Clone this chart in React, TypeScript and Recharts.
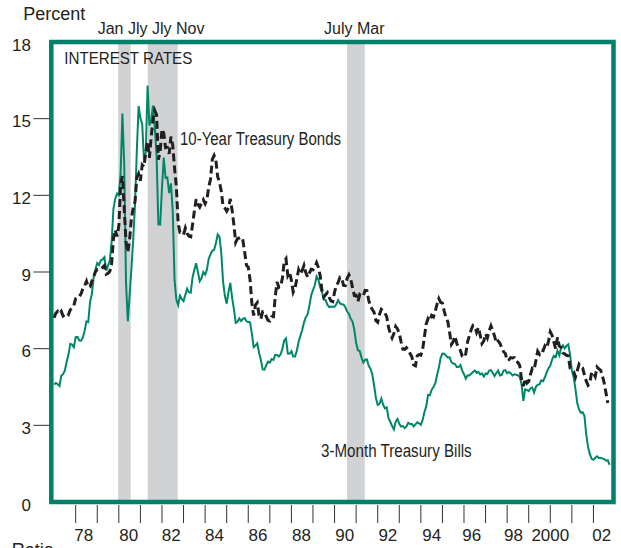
import React from "react";
import { LineChart, Line, XAxis, YAxis, ReferenceArea } from "recharts";

// Monthly series starting January 1977
const startYear = 1977;

const billRates = [
  4.60, 4.66, 4.61, 4.54, 4.94, 5.00, 5.15, 5.50, 5.77, 6.19, 6.16, 6.06,
  6.45, 6.46, 6.32, 6.31, 6.43, 6.71, 7.07, 7.04, 7.84, 8.13, 8.79, 9.12,
  9.35, 9.27, 9.46, 9.49, 9.58, 9.05, 9.26, 9.45, 10.18, 11.47, 11.87, 12.07,
  12.00, 12.86, 15.20, 13.20, 8.58, 7.07, 8.06, 9.13, 10.27, 11.62, 13.73, 15.49,
  15.02, 14.79, 13.36, 13.69, 16.30, 14.73, 14.95, 15.51, 14.70, 13.54, 10.86, 10.85,
  12.28, 13.48, 12.68, 12.70, 12.09, 12.47, 11.35, 8.68, 7.92, 7.71, 8.07, 7.94,
  7.86, 8.11, 8.35, 8.21, 8.19, 8.79, 9.08, 9.34, 9.00, 8.64, 8.76, 9.00,
  8.90, 9.09, 9.52, 9.69, 9.83, 9.87, 10.12, 10.47, 10.37, 9.74, 8.61, 8.06,
  7.76, 8.22, 8.57, 8.00, 7.56, 7.01, 7.05, 7.18, 7.08, 7.17, 7.20, 7.07,
  7.04, 7.03, 6.59, 6.06, 6.12, 6.21, 5.84, 5.57, 5.19, 5.18, 5.35, 5.49,
  5.45, 5.59, 5.56, 5.76, 5.75, 5.69, 5.78, 6.00, 6.32, 6.40, 5.81, 5.80,
  5.90, 5.69, 5.69, 5.92, 6.27, 6.50, 6.73, 7.02, 7.23, 7.34, 7.68, 8.09,
  8.29, 8.48, 8.83, 8.70, 8.40, 8.22, 7.92, 7.91, 7.72, 7.63, 7.65, 7.64,
  7.64, 7.74, 7.90, 7.77, 7.74, 7.73, 7.62, 7.45, 7.36, 7.17, 7.06, 6.74,
  6.22, 5.94, 5.91, 5.65, 5.46, 5.57, 5.58, 5.33, 5.22, 4.99, 4.56, 4.07,
  3.80, 3.84, 4.05, 3.81, 3.66, 3.70, 3.28, 3.14, 2.97, 2.84, 3.14, 3.25,
  3.06, 2.95, 2.97, 2.89, 2.96, 3.10, 3.05, 3.05, 2.96, 3.04, 3.12, 3.08,
  3.02, 3.21, 3.52, 3.74, 4.19, 4.18, 4.39, 4.50, 4.64, 4.96, 5.25, 5.64,
  5.81, 5.80, 5.73, 5.65, 5.67, 5.47, 5.42, 5.40, 5.28, 5.28, 5.36, 5.14,
  5.00, 4.83, 4.96, 4.95, 5.02, 5.09, 5.15, 5.05, 5.09, 4.99, 5.03, 4.91,
  5.03, 5.01, 5.14, 5.16, 5.05, 4.93, 5.05, 5.14, 4.95, 4.97, 5.14, 5.16,
  5.04, 5.09, 5.03, 4.95, 5.00, 4.98, 4.96, 4.90, 4.61, 3.96, 4.41, 4.39,
  4.34, 4.45, 4.48, 4.28, 4.51, 4.59, 4.60, 4.76, 4.73, 4.88, 5.07, 5.23,
  5.34, 5.57, 5.72, 5.67, 5.92, 5.74, 6.03, 6.13, 6.01, 6.11, 6.17, 5.77,
  5.15, 4.88, 4.42, 3.87, 3.62, 3.49, 3.51, 3.36, 2.64, 2.16, 1.87, 1.69,
  1.65, 1.73, 1.79, 1.72, 1.73, 1.70, 1.68, 1.62, 1.63, 1.45,
];

const bondRates = [
  7.21, 7.39, 7.46, 7.37, 7.46, 7.28, 7.33, 7.40, 7.34, 7.52, 7.58, 7.69,
  7.96, 8.03, 8.04, 8.15, 8.35, 8.46, 8.64, 8.41, 8.42, 8.64, 8.81, 9.01,
  9.10, 9.10, 9.12, 9.18, 9.25, 8.91, 8.95, 9.03, 9.33, 10.30, 10.65, 10.39,
  10.80, 12.41, 12.75, 11.47, 10.18, 9.78, 10.25, 11.10, 11.51, 11.75, 12.68, 12.84,
  12.57, 13.19, 13.12, 13.68, 14.10, 13.47, 14.28, 14.94, 15.32, 15.15, 13.39, 13.72,
  14.59, 14.43, 13.86, 13.87, 13.62, 14.30, 13.95, 13.06, 12.34, 10.91, 10.55, 10.54,
  10.46, 10.72, 10.51, 10.40, 10.38, 10.85, 11.38, 11.85, 11.65, 11.54, 11.69, 11.83,
  11.67, 11.84, 12.32, 12.63, 13.41, 13.56, 13.36, 12.72, 12.52, 12.16, 11.57, 11.50,
  11.38, 11.51, 11.86, 11.43, 10.85, 10.16, 10.31, 10.33, 10.37, 10.24, 9.78, 9.26,
  9.19, 8.70, 7.78, 7.30, 7.71, 7.80, 7.30, 7.17, 7.45, 7.43, 7.25, 7.11,
  7.08, 7.25, 7.25, 8.02, 8.61, 8.40, 8.45, 8.76, 9.42, 9.52, 8.86, 8.99,
  8.67, 8.21, 8.37, 8.72, 9.09, 8.92, 9.06, 9.26, 8.98, 8.80, 8.96, 9.11,
  9.09, 9.17, 9.36, 9.18, 8.86, 8.28, 8.02, 8.11, 8.19, 8.01, 7.87, 7.84,
  8.21, 8.47, 8.59, 8.79, 8.76, 8.48, 8.47, 8.75, 8.89, 8.72, 8.39, 8.08,
  8.09, 7.85, 8.11, 8.04, 8.07, 8.28, 8.27, 7.90, 7.65, 7.53, 7.42, 7.09,
  7.03, 7.34, 7.54, 7.48, 7.39, 7.26, 6.84, 6.59, 6.42, 6.59, 6.87, 6.77,
  6.60, 6.26, 5.98, 5.97, 6.04, 5.96, 5.81, 5.68, 5.36, 5.33, 5.72, 5.77,
  5.75, 5.97, 6.48, 6.97, 7.18, 7.10, 7.30, 7.24, 7.46, 7.74, 7.96, 7.81,
  7.78, 7.47, 7.20, 7.06, 6.63, 6.17, 6.28, 6.49, 6.20, 6.04, 5.93, 5.71,
  5.65, 5.81, 6.27, 6.51, 6.74, 6.91, 6.87, 6.64, 6.83, 6.53, 6.20, 6.30,
  6.58, 6.42, 6.69, 6.89, 6.71, 6.49, 6.22, 6.30, 6.21, 6.03, 5.88, 5.81,
  5.54, 5.57, 5.65, 5.64, 5.65, 5.50, 5.46, 5.34, 4.81, 4.53, 4.83, 4.65,
  4.72, 5.00, 5.23, 5.18, 5.54, 5.90, 5.79, 5.94, 5.92, 6.11, 6.03, 6.28,
  6.66, 6.52, 6.26, 5.99, 6.44, 6.10, 6.05, 5.83, 5.80, 5.74, 5.72, 5.24,
  5.16, 5.10, 4.89, 5.14, 5.39, 5.28, 5.24, 4.97, 4.73, 4.57, 4.65, 5.09,
  5.04, 4.91, 5.28, 5.21, 5.16, 4.93, 4.65, 4.26, 3.87,
];

// Recession shading (start, end) in fractional years
const recessionStarts = [1979.97, 1981.34, 1990.58];
const recessionEnds = [1980.55, 1982.73, 1991.4];

const xDomain = [1976.87, 2002.93];
const yDomain = [0, 18];
const yTicks = [0, 3, 6, 9, 12, 15, 18];
const yearTicks = [
  1978, 1979, 1980, 1981, 1982, 1983, 1984, 1985, 1986, 1987, 1988, 1989, 1990,
  1991, 1992, 1993, 1994, 1995, 1996, 1997, 1998, 1999, 2000, 2001, 2002,
];
const xLabels = ["78", "80", "82", "84", "86", "88", "90", "92", "94", "96", "98", "2000", "02"];
const xLabelPos = [1978.37, 1980.46, 1982.43, 1984.43, 1986.45, 1988.47, 1990.47, 1992.47, 1994.5, 1996.36, 1998.29, 2000.0, 2002.38];

const data = billRates.map((b, i) => ({
  t: startYear + i / 12,
  bill: b,
  bond: i < bondRates.length ? bondRates[i] : null,
}));

const allXTicks = Array.from(new Set([...yearTicks, ...xLabelPos])).sort((a, b) => a - b);

const FONT = "'Liberation Sans', Arial, Helvetica, sans-serif";
const INK = "#231F20";
const GREEN = "#00876A";
const FRAME = "#00806A";
const BAND = "#D1D2D4";

const XTick = (props: any) => {
  const { x, payload } = props;
  const v = payload.value;
  const isYear = yearTicks.includes(v);
  const li = xLabelPos.indexOf(v);
  return (
    <g>
      {isYear && <line x1={x} x2={x} y1={505} y2={523} stroke="#333" strokeWidth={1} />}
      {li >= 0 && (
        <text x={x} y={541} textAnchor="middle" fontSize={17} fontFamily={FONT} fill={INK}>
          {xLabels[li]}
        </text>
      )}
    </g>
  );
};

const YTick = (props: any) => {
  const { y, payload } = props;
  const v = payload.value;
  const showLine = v !== 0 && v !== 18;
  return (
    <g>
      {showLine && <line x1={33.3} x2={49.3} y1={y} y2={y} stroke="#333" strokeWidth={1} />}
      <text x={31} y={y + 8.5} textAnchor="end" fontSize={17} fontFamily={FONT} fill={INK}>
        {v}
      </text>
    </g>
  );
};

export default function App() {
  return (
    <div style={{ position: "fixed", left: 0, top: 0, width: 621, height: 548, overflow: "hidden", background: "#fff" }}>
      <LineChart
        width={621}
        height={548}
        data={data}
        margin={{ top: 42, right: 7.5, bottom: 0, left: 0 }}
      >
        <XAxis
          dataKey="t"
          type="number"
          domain={xDomain}
          allowDataOverflow
          ticks={allXTicks}
          interval={0}
          tick={<XTick />}
          tickLine={false}
          axisLine={false}
          height={46}
        />
        <YAxis
          type="number"
          domain={yDomain}
          ticks={yTicks}
          interval={0}
          tick={<YTick />}
          tickLine={false}
          axisLine={false}
          width={51.3}
        />
        {recessionStarts.map((s, i) => (
          <ReferenceArea
            key={"r" + i}
            x1={s}
            x2={recessionEnds[i]}
            y1={0}
            y2={18}
            fill={BAND}
            fillOpacity={1}
            stroke="none"
            ifOverflow="visible"
          />
        ))}
        <Line
          dataKey="bill"
          type="linear"
          stroke={GREEN}
          strokeWidth={2}
          dot={false}
          activeDot={false}
          isAnimationActive={false}
        />
        <Line
          dataKey="bond"
          type="linear"
          stroke={INK}
          strokeWidth={3}
          strokeDasharray="8 4"
          dot={false}
          activeDot={false}
          isAnimationActive={false}
        />
        <ReferenceArea
          x1={xDomain[0]}
          x2={xDomain[1]}
          y1={0}
          y2={18}
          fill="none"
          stroke={FRAME}
          strokeWidth={4.5}
          ifOverflow="visible"
        />
      </LineChart>
      <svg
        width={621}
        height={548}
        style={{ position: "absolute", left: 0, top: 0, pointerEvents: "none" }}
        fontFamily={FONT}
        fill={INK}
      >
        <text x={23.3} y={20} fontSize={18}>Percent</text>
        <text x={97.7} y={34.3} fontSize={16}>Jan Jly Jly Nov</text>
        <text x={324} y={34.3} fontSize={16}>July Mar</text>
        <text x={64.3} y={64} fontSize={17} textLength={128} lengthAdjust="spacingAndGlyphs">INTEREST RATES</text>
        <text x={180} y={145} fontSize={18} textLength={161} lengthAdjust="spacingAndGlyphs">10-Year Treasury Bonds</text>
        <text x={321} y={457} fontSize={18} textLength={150.7} lengthAdjust="spacingAndGlyphs">3-Month Treasury Bills</text>
        <text x={11.7} y={555.5} fontSize={18}>Ratio</text>
      </svg>
    </div>
  );
}
